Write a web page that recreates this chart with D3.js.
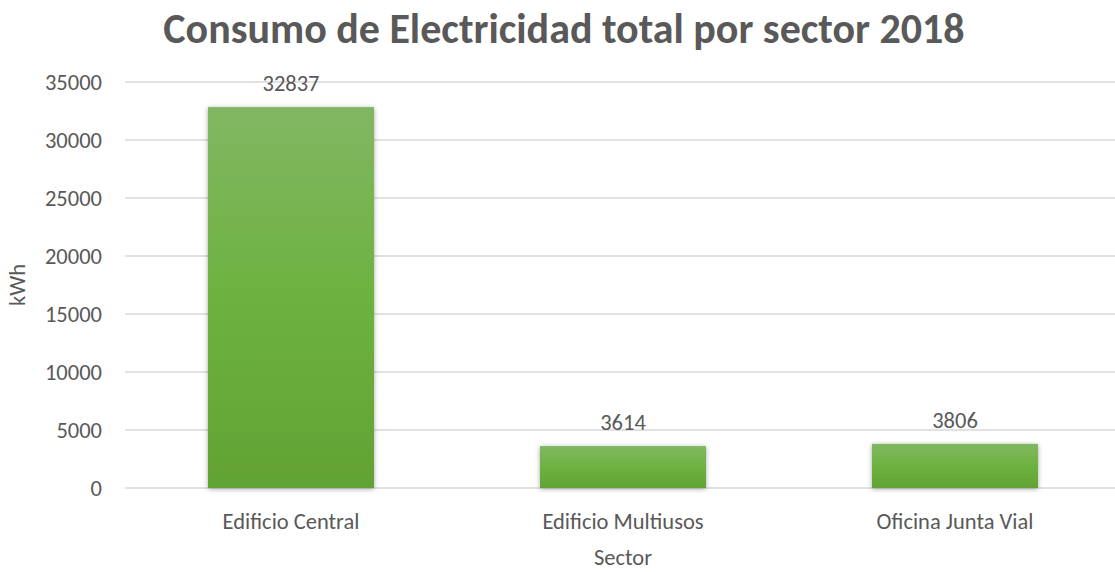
<!DOCTYPE html>
<head>
  <meta charset="utf-8" />
  <script src="https://d3js.org/d3.v7.min.js"></script>
  <style>
    body { margin: 0; background: #fff; }
    text { font-family: Carlito, Calibri, Lato, "Open Sans", sans-serif; fill: #595959; }
  </style>
</head>
<body>
  <script>
    // data
    var sectors = ["Edificio Central", "Edificio Multiusos", "Oficina Junta Vial"];
    var consumo = [32837, 3614, 3806];
    var yTicks = [0, 5000, 10000, 15000, 20000, 25000, 30000, 35000];

    var width = 1115, height = 572;

    var svg = d3.select("body").append("svg")
      .attr("width", width)
      .attr("height", height);

    var defs = svg.append("defs");
    var grad = defs.append("linearGradient")
      .attr("id", "barGrad")
      .attr("x1", 0).attr("y1", 0).attr("x2", 0).attr("y2", 1);
    grad.append("stop").attr("offset", "0%").attr("stop-color", "#81b762");
    grad.append("stop").attr("offset", "50%").attr("stop-color", "#6db240");
    grad.append("stop").attr("offset", "100%").attr("stop-color", "#62a234");

    var shadow = defs.append("filter").attr("id", "shadow")
      .attr("x", "-10%").attr("y", "-10%").attr("width", "120%").attr("height", "120%");
    shadow.append("feDropShadow")
      .attr("dx", 0).attr("dy", 1).attr("stdDeviation", 2.5)
      .attr("flood-color", "#000").attr("flood-opacity", 0.35);

    var x = d3.scaleBand()
      .domain(sectors)
      .range([125, 1121])
      .paddingInner(0.5)
      .paddingOuter(0.25);

    var y = d3.scaleLinear()
      .domain([0, 35000])
      .range([488, 82]);

    // gridlines
    svg.append("g").selectAll("line")
      .data(yTicks)
      .join("line")
      .attr("x1", 125).attr("x2", width)
      .attr("y1", function (d) { return y(d); })
      .attr("y2", function (d) { return y(d); })
      .attr("stroke", "#d9d9d9")
      .attr("stroke-width", 1.5);

    // y tick labels
    svg.append("g").selectAll("text")
      .data(yTicks)
      .join("text")
      .attr("x", 102)
      .attr("y", function (d) { return y(d); })
      .attr("dy", "0.35em")
      .attr("text-anchor", "end")
      .attr("font-size", 22.5)
      .text(function (d) { return d; });

    // bars
    svg.append("g").selectAll("rect")
      .data(consumo)
      .join("rect")
      .attr("x", function (d, i) { return x(sectors[i]); })
      .attr("y", function (d) { return y(d); })
      .attr("width", x.bandwidth())
      .attr("height", function (d) { return y(0) - y(d); })
      .attr("fill", "url(#barGrad)")
      .attr("filter", "url(#shadow)");

    // value labels
    svg.append("g").selectAll("text")
      .data(consumo)
      .join("text")
      .attr("x", function (d, i) { return x(sectors[i]) + x.bandwidth() / 2; })
      .attr("y", function (d) { return y(d) - 16; })
      .attr("text-anchor", "middle")
      .attr("font-size", 22.5)
      .attr("fill", "#404040")
      .text(function (d) { return d; });

    // category labels
    svg.append("g").selectAll("text")
      .data(sectors)
      .join("text")
      .attr("x", function (d) { return x(d) + x.bandwidth() / 2; })
      .attr("y", 529)
      .attr("text-anchor", "middle")
      .attr("font-size", 22.5)
      .text(function (d) { return d; });

    // axis titles
    svg.append("text")
      .attr("x", 623).attr("y", 565)
      .attr("text-anchor", "middle")
      .attr("font-size", 22.5)
      .text("Sector");

    svg.append("text")
      .attr("transform", "translate(25,285) rotate(-90)")
      .attr("text-anchor", "middle")
      .attr("font-size", 22.5)
      .text("kWh");

    // title
    svg.append("text")
      .attr("x", 564).attr("y", 43)
      .attr("text-anchor", "middle")
      .attr("font-size", 42)
      .attr("font-weight", "bold")
      .text("Consumo de Electricidad total por sector 2018");
  </script>
</body>
